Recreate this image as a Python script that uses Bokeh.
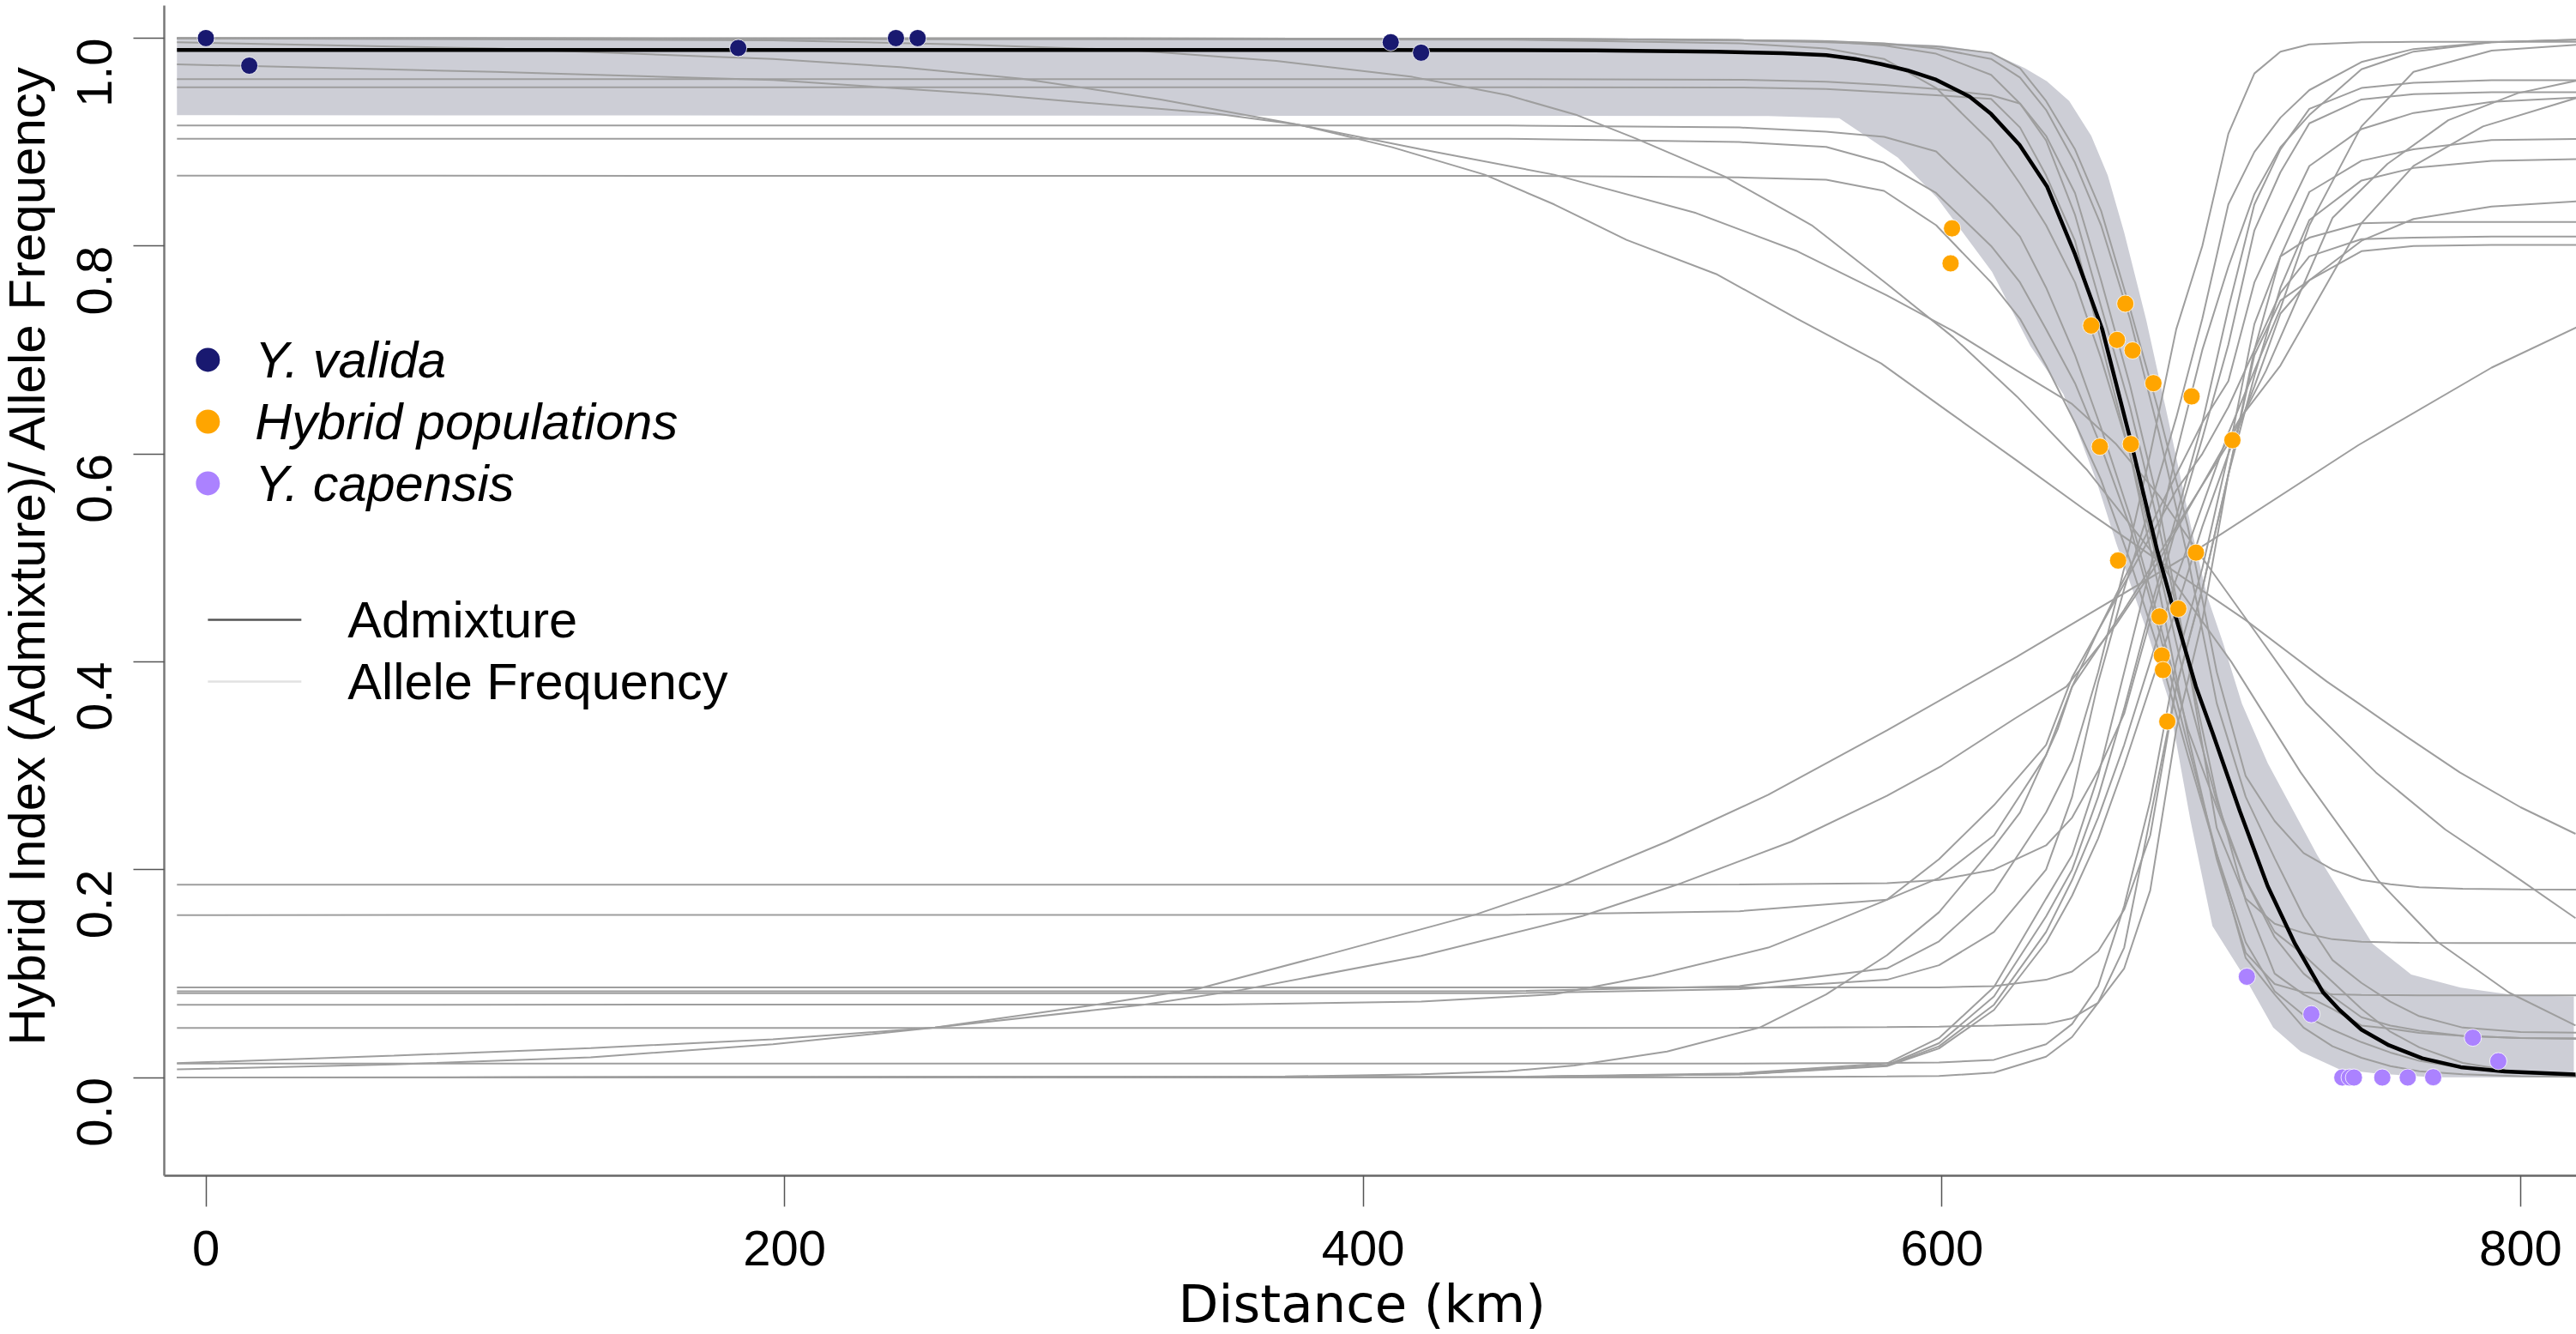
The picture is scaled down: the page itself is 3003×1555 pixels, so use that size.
from bokeh.plotting import figure
from bokeh.models import FixedTicker
from bokeh.core.properties import value
from bokeh.embed import file_html
from bokeh.resources import INLINE
import math

# ---------- points ----------
valida_x = [0, 15, 184, 238.5, 246, 409.5, 420]
valida_y = [1.0, .9735, .9905, 1.0, 1.0, .996, .986]
hybrid_x = [603.5, 603, 663.4, 651.6, 660.5, 665.9, 673.1, 686.3, 700.4, 654.6, 665.3, 660.9, 687.8, 681.7, 675.2, 676, 676.4, 677.9]
hybrid_y = [.817, .7833, .7445, .7235, .7096, .6995, .668, .6553, .6132, .6069, .6094, .4974, .505, .451, .4435, .406, .392, .3425]
capensis_x = [705.4, 727.7, 738.4, 740.9, 742.4, 752.2, 761, 769.8, 783.5, 792.3]
capensis_y = [.097, .0609, 0, 0, 0, 0, 0, .0003, .0383, .0157]

# ---------- admixture cline and its band ----------
admix_x = [-10, 200, 400, 480, 522, 545, 560, 570, 579, 588, 598, 609.6, 617, 626.8, 636.3, 646, 655.4, 665, 674.5, 680, 687.8, 693.5, 703, 712.6, 722, 731.7, 737.4, 745, 754.5, 766, 779.3, 794.6, 819]
admix_y = [.9885, .9885, .9885, .9882, .987, .9855, .9837, .98, .975, .969, .96, .9437, .927, .8974, .8574, .792, .72, .6153, .506, .451, .376, .332, .256, .184, .1288, .082, .065, .046, .031, .0185, .01, .0058, .0029]
band_top_x = [-10, 500, 560, 600, 617.3, 628.7, 636.3, 644, 651.6, 657.3, 663, 670.6, 678.3, 686, 691.6, 697.3, 703.7, 712.6, 729.8, 748.8, 762.2, 779.3, 798.4, 818.4]
band_top_y = [1.0, 1.0, .998, .993, .9858, .971, .9584, .9395, .906, .868, .813, .729, .632, .531, .4637, .417, .3596, .3026, .2136, .1288, .099, .0864, .079, .078]
band_low_x = [818.4, 770, 750.7, 737.4, 724, 714.5, 705, 693.5, 685.9, 678.2, 671, 660.3, 653.4, 642, 630.6, 617.3, 598.2, 584.8, 564.5, 540, -10]
band_low_y = [0, .0003, .0037, .0079, .025, .048, .095, .1457, .2475, .365, .4284, .5136, .574, .6574, .7037, .7753, .8468, .885, .923, .9251, .9258]

# ---------- allele frequency clines, descending ----------
grid_down = [-10, 450, 530, 560, 580, 598, 617, 627, 636, 646, 655, 665, 675, 685, 695, 705, 715, 725, 735, 745, 755, 765, 780, 800, 820]
down_1 = [1.0, .9995, .998, .996, .994, .992, .9858, .971, .9395, .893, .834, .74, .64, .53, .39, .29, .2468, .216, .20, .19, .186, .183, .1815, .181, .1808]
down_2 = [1.0, .9995, .998, .997, .995, .99, .98, .962, .931, .88, .82, .73, .62, .50, .36, .27, .211, .155, .113, .091, .073, .059, .048, .0438, .0432]
down_3 = [1.0, .9995, .998, .997, .993, .985, .9647, .937, .906, .851, .767, .666, .55, .40, .24, .172, .148, .139, .133, .1307, .130, .1295, .1293, .1293, .1293]
down_4 = [.9605, .9605, .96, .958, .955, .951, .945, .937, .9016, .83, .742, .645, .53, .40, .27, .17, .10, .08, .066, .05, .047, .043, .04, .038, .0378]
down_5 = [.9527, .9527, .9525, .951, .948, .945, .9416, .914, .868, .805, .708, .60, .47, .33, .21, .12, .09, .082, .08, .0795, .0792, .079, .079, .079, .079]
down_6 = [.916, .916, .914, .91, .905, .891, .84, .809, .76, .695, .625, .54, .44, .335, .26, .19, .14, .118, .092, .066, .044, .029, .014, .005, .002]
down_7 = [.9032, .9032, .90, .8953, .88, .851, .80, .765, .72, .668, .607, .53, .43, .32, .215, .115, .08, .048, .03, .019, .011, .006, .003, .0012, .0005]
down_8 = [.8676, .8675, .866, .8637, .853, .82, .765, .73, .685, .63, .575, .4974, .41, .31, .215, .13, .083, .06, .046, .034, .024, .016, .009, .004, .0015]
down_9 = [.9995, .9985, .995, .99, .98, .952, .90, .86, .82, .765, .692, .60, .49, .37, .265, .19, .135, .10, .078, .058, .05, .045, .04, .038, .0372]

wide_down_1_x = [-10, 100, 196, 260, 319, 370, 417, 450, 474, 494, 525, 555, 581, 604, 626, 650, 675, 700, 724, 751, 771, 796, 819]
wide_down_1_y = [.9999, .999, .9978, .994, .9885, .978, .9627, .945, .9258, .9037, .8668, .82, .7634, .712, .655, .585, .497, .40, .2935, .189, .131, .0817, .05]
wide_down_2_x = [-10, 100, 196, 240, 282, 330, 375, 420, 466, 515, 550, 581, 604, 626, 645, 660, 675, 690, 708, 726, 750, 774, 800, 819]
wide_down_2_y = [.996, .99, .98, .972, .961, .941, .918, .893, .8686, .8317, .795, .7524, .718, .68, .648, .61, .56, .50, .43, .3596, .2935, .2385, .19, .1533]
wide_down_3_x = [-10, 100, 196, 269.5, 348, 378, 410, 442, 466, 491, 522, 550, 579, 602, 626, 650, 675, 705, 733, 744, 760, 779, 800, 819]
wide_down_3_y = [.9748, .9675, .9597, .946, .9277, .9166, .895, .8686, .84, .8059, .773, .73, .687, .641, .5933, .545, .497, .44, .381, .36, .329, .2935, .26, .2344]

# ---------- allele frequency clines, ascending ----------
grid_up = [-10, 450, 530, 581, 599, 618, 636, 645, 654, 663, 672, 681, 690, 699, 708, 717, 727, 745, 763, 790, 820]
up_a = [.083, .083, .088, .105, .131, .179, .255, .305, .39, .49, .60, .72, .80, .908, .966, .987, .994, .996, .9964, .9964, .9964]
up_b = [.081, .081, .085, .094, .108, .14, .20, .27, .38, .47, .55, .635, .73, .84, .8905, .9235, .95, .977, .9895, .996, .9986]
up_c = [0, .0005, .004, .0136, .038, .087, .172, .214, .29, .39, .49, .60, .70, .78, .85, .895, .926, .97, .987, .996, .9986]
up_d = [0, .0005, .003, .012, .033, .078, .155, .20, .27, .355, .45, .54, .63, .74, .84, .893, .932, .952, .957, .9595, .9595]
up_e = [.1856, .1856, .1857, .187, .19, .20, .2233, .25, .295, .35, .44, .53, .615, .705, .815, .871, .918, .941, .946, .948, .948]
up_f = [.1563, .1565, .16, .171, .192, .233, .31, .376, .43, .48, .53, .58, .63, .67, .765, .819, .877, .9125, .928, .9386, .943]
up_h = [.0866, .0866, .0866, .0866, .0867, .088, .094, .102, .1215, .1615, .233, .376, .47, .58, .675, .76, .825, .863, .875, .882, .8835]
up_i = [.0476, .0476, .0478, .0485, .049, .05, .0515, .057, .072, .125, .25, .375, .47, .58, .695, .7475, .767, .795, .80, .801, .801]
up_j = [.0135, .0135, .0135, .014, .0145, .017, .032, .0515, .088, .165, .266, .40, .49, .60, .725, .79, .808, .8218, .823, .823, .823]
up_k = [0, 0, .0002, .001, .0015, .0047, .02, .039, .072, .105, .18, .335, .44, .58, .70, .755, .79, .8066, .808, .809, .809]
up_l = [0, .0005, .003, .011, .028, .065, .13, .175, .23, .30, .376, .45, .53, .60, .665, .735, .767, .805, .826, .838, .843]
up_n = [0, .0005, .003, .0115, .03, .07, .14, .19, .25, .32, .40, .48, .55, .62, .68, .74, .82, .915, .9675, .988, .9937]

up_g_x = [-10, 350, 420, 466, 500, 540, 560, 581, 599, 618, 636, 645, 654, 663, 672, 681, 690, 699, 708, 717, 727, 745, 763, 790, 820]
up_g_y = [.07, .0702, .073, .08, .098, .125, .147, .171, .21, .262, .32, .385, .43, .475, .52, .565, .60, .645, .70, .79, .852, .882, .893, .902, .903]

wide_up_0_x = [-10, 373, 420, 450, 473, 505, 537, 560, 581, 599, 618, 627, 640, 645, 663, 681, 699, 712, 735, 754, 775, 799, 820]
wide_up_0_y = [0, .001, .003, .006, .0115, .025, .048, .08, .1176, .159, .222, .255, .335, .376, .45, .53, .61, .68, .827, .879, .921, .947, .9595]
wide_up_1_x = [-10, 65, 133, 196, 252, 311, 343, 390, 439, 469, 505, 540, 581, 626, 687, 744, 790, 820]
wide_up_1_y = [.0138, .021, .0283, .0367, .048, .0714, .0855, .12, .1569, .1853, .227, .272, .334, .405, .5056, .6085, .683, .7226]
wide_up_2_x = [-10, 65, 133, 196, 252, 324, 358, 420, 476, 510, 548, 581, 600, 625, 643, 660, 675, 703, 717, 745, 763, 787, 820]
wide_up_2_y = [.0078, .0125, .0194, .032, .048, .07, .0843, .117, .1556, .187, .227, .271, .30, .345, .376, .435, .497, .634, .685, .822, .877, .915, .943]

x_ticks = [0, 200, 400, 600, 800]
y_ticks = [0.0, 0.2, 0.4, 0.6, 0.8, 1.0]
legend_species = ["Y. valida", "Hybrid populations", "Y. capensis"]
legend_colors = ["#191970", "#FFA500", "#AB82FF"]
legend_species_y = [.6905, .631, .5716]
legend_lines = ["Admixture", "Allele Frequency"]
legend_line_y = [.4403, .3809]
legend_line_colors = ["#555555", "#e2e2e2"]

GREY = "#9e9e9e"
FONT = "Liberation Sans"
NB = "\u00a0"

# the left and bottom margins are a little wider than the window allows, so the figure is offset by them
p = figure(width=3038, height=1580, output_backend="svg", toolbar_location=None,
           x_range=(-14.38, 819.3), y_range=(-.0945, 1.0313),
           min_border_left=226, min_border_right=0, min_border_top=6, min_border_bottom=210,
           outline_line_color=None, background_fill_color="white",
           styles={"margin-left": "-35px", "margin-bottom": "-25px"})
p.grid.visible = False

p.patch(band_top_x + band_low_x, band_top_y + band_low_y, fill_color="#cdced6", line_color=None)

for ys in [down_1, down_2, down_3, down_4, down_5, down_6, down_7, down_8, down_9]:
    p.line(grid_down, ys, line_color=GREY, line_width=2)
for ys in [up_a, up_b, up_c, up_d, up_e, up_f, up_h, up_i, up_j, up_k, up_l, up_n]:
    p.line(grid_up, ys, line_color=GREY, line_width=2)
for xs, ys in [(wide_down_1_x, wide_down_1_y), (wide_down_2_x, wide_down_2_y), (wide_down_3_x, wide_down_3_y),
               (up_g_x, up_g_y), (wide_up_0_x, wide_up_0_y), (wide_up_1_x, wide_up_1_y), (wide_up_2_x, wide_up_2_y)]:
    p.line(xs, ys, line_color=GREY, line_width=2)

p.line(admix_x, admix_y, line_color="black", line_width=4.5)

for xs, ys, c in [(valida_x, valida_y, legend_colors[0]), (hybrid_x, hybrid_y, legend_colors[1]), (capensis_x, capensis_y, legend_colors[2])]:
    p.scatter(xs, ys, size=20, fill_color=c, line_color="white", line_width=0.8)

# legend, drawn in data coordinates
p.scatter([0.7] * 3, legend_species_y, size=28, fill_color=legend_colors, line_color=None)
p.text([17] * 3, legend_species_y, text=legend_species, text_font=value(FONT), text_font_style="italic",
       text_font_size="59.5px", text_baseline="middle", text_color="black")
for yy, c in zip(legend_line_y, legend_line_colors):
    p.line([0.7, 33], [yy, yy], line_color=c, line_width=2.5)
p.text([49] * 2, legend_line_y, text=legend_lines, text_font=value(FONT),
       text_font_size="59.5px", text_baseline="middle", text_color="black")

# axes in R style
xa = p.xaxis[0]
xa.ticker = FixedTicker(ticks=x_ticks)
xa.major_tick_out = 36
xa.major_tick_in = 0
xa.minor_tick_out = 0
xa.minor_tick_in = 0
xa.major_tick_line_color = "#555555"
xa.major_tick_line_width = 1.5
xa.axis_line_color = "#666666"
xa.axis_line_width = 2.5
xa.major_label_text_font = FONT
xa.major_label_text_font_size = "58px"
xa.major_label_text_color = "black"
xa.major_label_standoff = 28
xa.axis_label = "Distance (km)" + NB
xa.axis_label_text_font = "DejaVu Sans"
xa.axis_label_text_font_size = "61px"
xa.axis_label_text_font_style = "normal"
xa.axis_label_text_color = "black"
xa.axis_label_standoff = 6

ya = p.yaxis[0]
ya.ticker = FixedTicker(ticks=y_ticks)
ya.major_tick_out = 36
ya.major_tick_in = 0
ya.minor_tick_out = 0
ya.minor_tick_in = 0
ya.major_tick_line_color = "#555555"
ya.major_tick_line_width = 1.5
ya.axis_line_color = "#777777"
ya.axis_line_width = 2.5
ya.major_label_text_font = FONT
ya.major_label_text_font_size = "58px"
ya.major_label_text_color = "black"
ya.major_label_orientation = math.pi / 2
ya.major_label_standoff = 45
ya.major_label_overrides = {0.0: "0.0", 0.2: "0.2", 0.4: "0.4", 0.6: "0.6", 0.8: "0.8", 1.0: "1.0"}
ya.axis_label = NB * 5 + "Hybrid Index (Admixture)/ Allele Frequency"
ya.axis_label_text_font = FONT
ya.axis_label_text_font_size = "60px"
ya.axis_label_text_font_style = "normal"
ya.axis_label_text_color = "black"
ya.axis_label_standoff = 3

open("out.html", "w").write(file_html(p, INLINE))
